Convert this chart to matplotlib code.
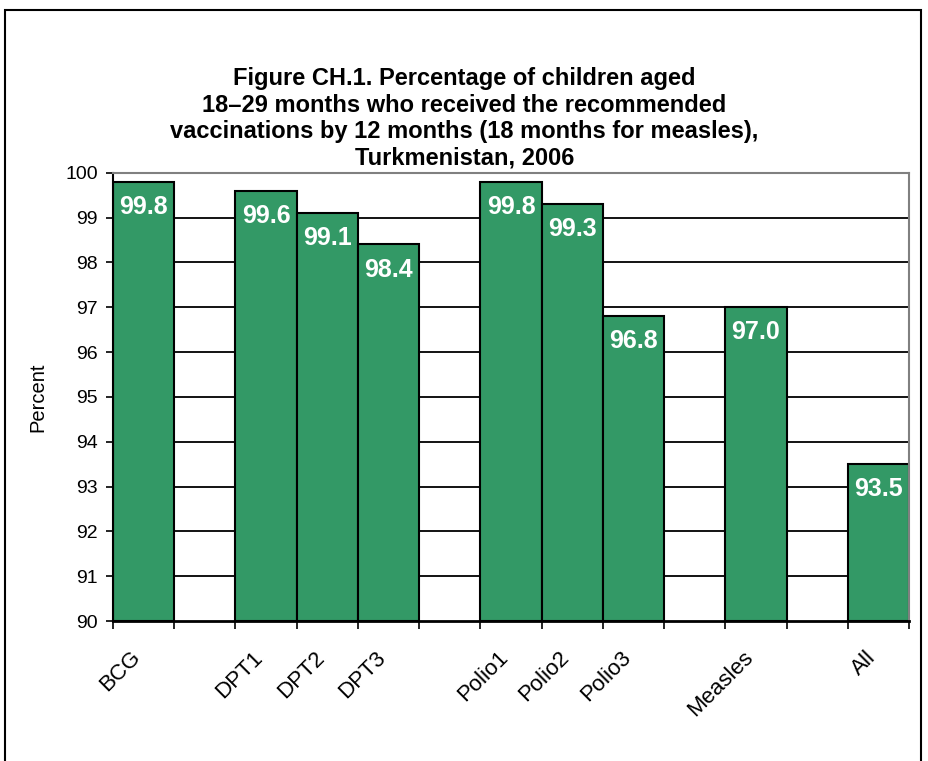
import numpy as np
import matplotlib.pyplot as plt
from matplotlib.patches import Rectangle
from matplotlib.transforms import ScaledTranslation

plt.rcParams['font.family'] = ['Liberation Sans', 'DejaVu Sans']

# vaccines grouped, one empty slot between groups
groups = [["BCG"], ["DPT1", "DPT2", "DPT3"], ["Polio1", "Polio2", "Polio3"],
          ["Measles"], ["All"]]
values = [99.8, 99.6, 99.1, 98.4, 99.8, 99.3, 96.8, 97.0, 93.5]
yticks = list(range(90, 101))

labels = []
xpos = []
slot = 0
for g in groups:
    for name in g:
        labels.append(name)
        xpos.append(slot)
        slot += 1
    slot += 1
nslots = slot - 1

fig = plt.figure(figsize=(9.29, 7.61), dpi=100)
ax = fig.add_axes([113/929, 1 - 621/761, 796/929, (621 - 172.7)/761])

ax.set_axisbelow(True)
ax.bar(xpos, [v - 90 for v in values], bottom=90, width=1.0,
       color='#339966', edgecolor='black', linewidth=1.5, zorder=2)

for x, v in zip(xpos, values):
    ax.annotate(f"{v:.1f}", (x, v), xytext=(0, -9.5), textcoords='offset points',
                ha='center', va='top', color='white', fontsize=18,
                fontweight='bold', zorder=3)

ax.set_xlim(-0.5, nslots - 0.5)
ax.set_ylim(90, 100)
ax.set_yticks(yticks)
ax.tick_params(axis='y', direction='out', length=5, width=1.2, labelsize=14, pad=6)
for y in yticks[1:-1]:
    ax.axhline(y, color='black', linewidth=1.3, zorder=1)

ax.set_xticks(xpos)
ax.set_xticklabels(labels, rotation=45, ha='right', va='center',
                   rotation_mode='anchor', fontsize=16)
ax.tick_params(axis='x', length=0, pad=24)
shift = ScaledTranslation(-6/100, 0, fig.dpi_scale_trans)
for t in ax.get_xticklabels():
    t.set_transform(t.get_transform() + shift)
ax.set_xticks(np.arange(-0.5, nslots, 1.0), minor=True)
ax.tick_params(axis='x', which='minor', direction='out', length=6, width=1.2)

ax.spines['left'].set_linewidth(1.5)
ax.spines['bottom'].set_linewidth(2)
ax.spines['top'].set_color('#808080')
ax.spines['top'].set_linewidth(1.5)
ax.spines['right'].set_color('#808080')
ax.spines['right'].set_linewidth(1.5)

ax.set_ylabel("Percent", fontsize=14.5)
ax.yaxis.set_label_coords(-0.083, 0.5)

fig.text(0.5, 1 - 67/761,
         "Figure CH.1. Percentage of children aged\n"
         "18\u201329 months who received the recommended\n"
         "vaccinations by 12 months (18 months for measles),\n"
         "Turkmenistan, 2006",
         ha='center', va='top', fontsize=17, fontweight='bold', linespacing=1.2)

fig.patches.append(Rectangle((5/929, -0.05), (921 - 5)/929, 1.05 - 10/761,
                             transform=fig.transFigure, fill=False,
                             edgecolor='black', linewidth=1.5))

fig.savefig("out.png", dpi=100)
